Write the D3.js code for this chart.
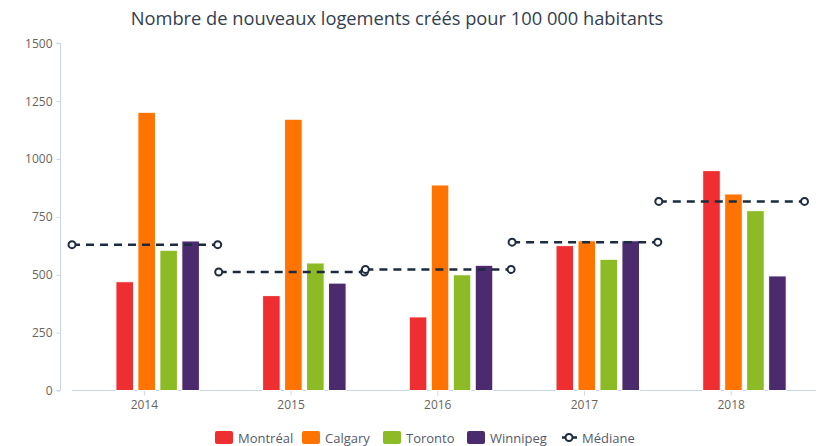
<!DOCTYPE html>
<html>
<head>
<meta charset="utf-8">
<script src="https://cdn.jsdelivr.net/npm/d3@7/dist/d3.min.js"></script>
<style>
  body { margin: 0; background: #fff; }
  svg { display: block; font-family: "Open Sans", "DejaVu Sans", sans-serif; }
</style>
</head>
<body>
<svg id="chart" width="817" height="446"></svg>
<script>
// data
var years = ["2014", "2015", "2016", "2017", "2018"];
var cities = ["Montréal", "Calgary", "Toronto", "Winnipeg"];
var montreal = [470, 410, 318, 626, 950];
var calgary = [1202, 1172, 888, 647, 849];
var toronto = [606, 551, 500, 567, 777];
var winnipeg = [646, 464, 541, 647, 495];
var mediane = [630, 512, 523, 641, 817];
var yTicks = [0, 250, 500, 750, 1000, 1250, 1500];
var cityColors = ["#ee2e31", "#ff7300", "#8dbb25", "#4b2a6e"];

var seriesVals = [montreal, calgary, toronto, winnipeg];

var svg = d3.select("#chart");
var margins = { top: 43.3, left: 60.5, right: 12, bottom: 55.5 };
var h = 446;

var y = d3.scaleLinear()
    .domain([0, 1500])
    .range([h - margins.bottom, margins.top]);

var x = d3.scaleBand()
    .domain(years)
    .range([71, 804.5]);

// bars sit right of the category centre
var xInner = d3.scaleBand()
    .domain(cities)
    .range([44.9, 128.4])
    .paddingInner(0.2);

// title
svg.append("text")
   .attr("x", 397)
   .attr("y", 25)
   .attr("text-anchor", "middle")
   .style("font-size", "18.3px")
   .style("fill", "#333e50")
   .text("Nombre de nouveaux logements créés pour 100 000 habitants");

// y axis
var yAxis = svg.append("g")
   .attr("transform", "translate(" + margins.left + ",0)")
   .call(d3.axisLeft(y).tickValues(yTicks).tickSize(4).tickPadding(4).tickFormat(d3.format("d")));
yAxis.selectAll("line, path").attr("stroke", "#ccd6eb");
yAxis.select(".domain").attr("d", "M-4," + y(1500) + "H0V" + y(0) + "H-4");
yAxis.selectAll("text").style("font-size", "12px").style("fill", "#6a6460").style("font-family", "Open Sans, sans-serif");

// x axis
var xAxis = svg.append("g")
   .attr("transform", "translate(0," + y(0) + ")")
   .call(d3.axisBottom(x).tickSize(5).tickPadding(5));
xAxis.select(".domain").attr("d", "M72,0H816");
xAxis.selectAll("line, path").attr("stroke", "#ccd6eb");
xAxis.selectAll("text").style("font-size", "12px").style("fill", "#6a6460").style("font-family", "Open Sans, sans-serif");

// bars
var barData = [];
years.forEach(function(yr, i) {
    cities.forEach(function(c, j) {
        barData.push({ year: yr, city: c, value: seriesVals[j][i], ci: j });
    });
});

svg.append("g")
   .selectAll("rect")
   .data(barData)
   .enter()
   .append("rect")
   .attr("x", d => x(d.year) + xInner(d.city))
   .attr("y", d => y(d.value))
   .attr("width", xInner.bandwidth())
   .attr("height", d => y(0) - y(d.value))
   .attr("fill", d => cityColors[d.ci])
   .attr("stroke", "#fff")
   .attr("stroke-width", 1);

// median segments, one per year across its band
var medG = svg.append("g");
years.forEach(function(yr, i) {
    var x0 = x(yr) + 1, x1 = x(yr) + x.bandwidth();
    medG.append("line")
        .attr("x1", x0).attr("x2", x1)
        .attr("y1", y(mediane[i])).attr("y2", y(mediane[i]))
        .attr("stroke", "#1c2b3e")
        .attr("stroke-width", 2.5)
        .attr("stroke-dasharray", "8,6");
    [x0, x1].forEach(function(px) {
        medG.append("circle")
            .attr("cx", px).attr("cy", y(mediane[i]))
            .attr("r", 3.5)
            .attr("fill", "#fff")
            .attr("stroke", "#1c2b3e")
            .attr("stroke-width", 2);
    });
});

// legend
var legend = svg.append("g");
var legendX = [215, 302, 383, 467];
cities.forEach(function(c, j) {
    legend.append("rect")
          .attr("x", legendX[j]).attr("y", 431)
          .attr("width", 18).attr("height", 13).attr("rx", 2)
          .attr("fill", cityColors[j]);
    legend.append("text")
          .attr("x", legendX[j] + 23).attr("y", 442.5)
          .style("font-size", "13px")
          .style("fill", "#555a6a")
          .text(c);
});
legend.append("line")
      .attr("x1", 562).attr("x2", 577).attr("y1", 437.5).attr("y2", 437.5)
      .attr("stroke", "#1c2b3e").attr("stroke-width", 2.5);
legend.append("circle")
      .attr("cx", 569).attr("cy", 437.5).attr("r", 3.5)
      .attr("fill", "#fff").attr("stroke", "#1c2b3e").attr("stroke-width", 2);
legend.append("text")
      .attr("x", 582).attr("y", 442.5)
      .style("font-size", "13px")
      .style("fill", "#555a6a")
      .text("Médiane");
</script>
</body>
</html>
